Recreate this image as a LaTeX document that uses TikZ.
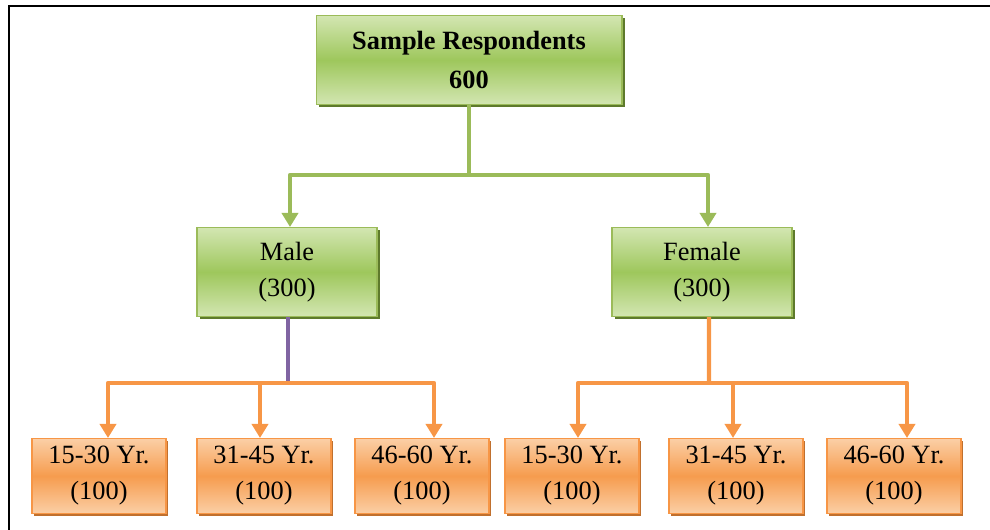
\documentclass[tikz,border=0pt]{standalone}
\usepackage{fontspec}
\setmainfont{Liberation Serif}
\usetikzlibrary{arrows.meta,shadows}

\definecolor{grnline}{HTML}{9BBB59}
\definecolor{grntop}{HTML}{D3E6B2}
\definecolor{grnmid}{HTML}{9EC75C}
\definecolor{grnshadow}{HTML}{5E7A2C}
\definecolor{orgline}{HTML}{F79646}
\definecolor{orgtop}{HTML}{FBCFA6}
\definecolor{orgmid}{HTML}{F69C4E}
\definecolor{orgshadow}{HTML}{C0702E}
\definecolor{purline}{HTML}{8064A2}

\tikzset{
  boxfont/.style={font=\fontsize{15}{20.5}\selectfont},
  grnbox/.style={draw=grnline, line width=0.6pt, top color=grntop,
    bottom color=grntop, middle color=grnmid, boxfont, align=center,
    inner sep=0pt, minimum height=1.78cm,
    drop shadow={shadow xshift=1.6pt, shadow yshift=-1.6pt, fill=grnshadow, opacity=1}},
  orgbox/.style={draw=orgline, line width=0.6pt, top color=orgtop,
    bottom color=orgtop, middle color=orgmid, boxfont, align=center,
    inner sep=0pt, minimum width=2.68cm, minimum height=1.5cm,
    drop shadow={shadow xshift=1.2pt, shadow yshift=-1.2pt, fill=orgshadow, opacity=1}},
  link/.style={line width=2.5pt, line join=round},
  tip/.style={-{Triangle[width=0.32cm,length=0.28cm]}},
}

\begin{document}
\begin{tikzpicture}[x=0.02cm, y=-0.02cm]
  \useasboundingbox (0,0) rectangle (990,529);
  % frame
  \draw[line width=1.2pt, line cap=rect] (9,529) -- (9,6) -- (990,6);

  % boxes
  \node[grnbox, minimum width=6.12cm] (smp) at (469,60)
    {\textbf{Sample Respondents}\\[2pt]\textbf{600}};
  \node[grnbox, minimum width=3.6cm] (male) at (287,272) {Male\\(300)};
  \node[grnbox, minimum width=3.6cm] (fem) at (702,272) {Female\\(300)};

  \node[orgbox] (m1) at (99,476) {15-30 Yr.\\(100)};
  \node[orgbox] (m2) at (264,476) {31-45 Yr.\\(100)};
  \node[orgbox] (m3) at (422,476) {46-60 Yr.\\(100)};
  \node[orgbox] (f1) at (572,476) {15-30 Yr.\\(100)};
  \node[orgbox] (f2) at (736,476) {31-45 Yr.\\(100)};
  \node[orgbox] (f3) at (894,476) {46-60 Yr.\\(100)};

  % first split
  \coordinate (gbar) at (469,175);
  \draw[link, grnline] (smp) -- (gbar);
  \draw[link, grnline, tip] (gbar) -| ([xshift=0.06cm]male.north);
  \draw[link, grnline, tip] (gbar) -| ([xshift=0.12cm]fem.north);

  % male branch
  \coordinate (mbar) at (288,383);
  \draw[link, purline] ([xshift=0.02cm]male.south) -- (mbar);
  \draw[link, orgline, tip] (mbar) -| ([xshift=0.18cm]m1.north);
  \draw[link, orgline, tip] (mbar) -| ([xshift=0.24cm]m3.north);
  \draw[link, orgline, tip] ([xshift=-0.08cm]m2.north |- mbar) -- ([xshift=-0.08cm]m2.north);

  % female branch
  \coordinate (fbar) at (709,383);
  \draw[link, orgline] ([xshift=0.14cm]fem.south) -- (fbar);
  \draw[link, orgline, tip] (fbar) -| ([xshift=0.12cm]f1.north);
  \draw[link, orgline, tip] (fbar) -| ([xshift=0.26cm]f3.north);
  \draw[link, orgline, tip] ([xshift=-0.06cm]f2.north |- fbar) -- ([xshift=-0.06cm]f2.north);
\end{tikzpicture}
\end{document}
